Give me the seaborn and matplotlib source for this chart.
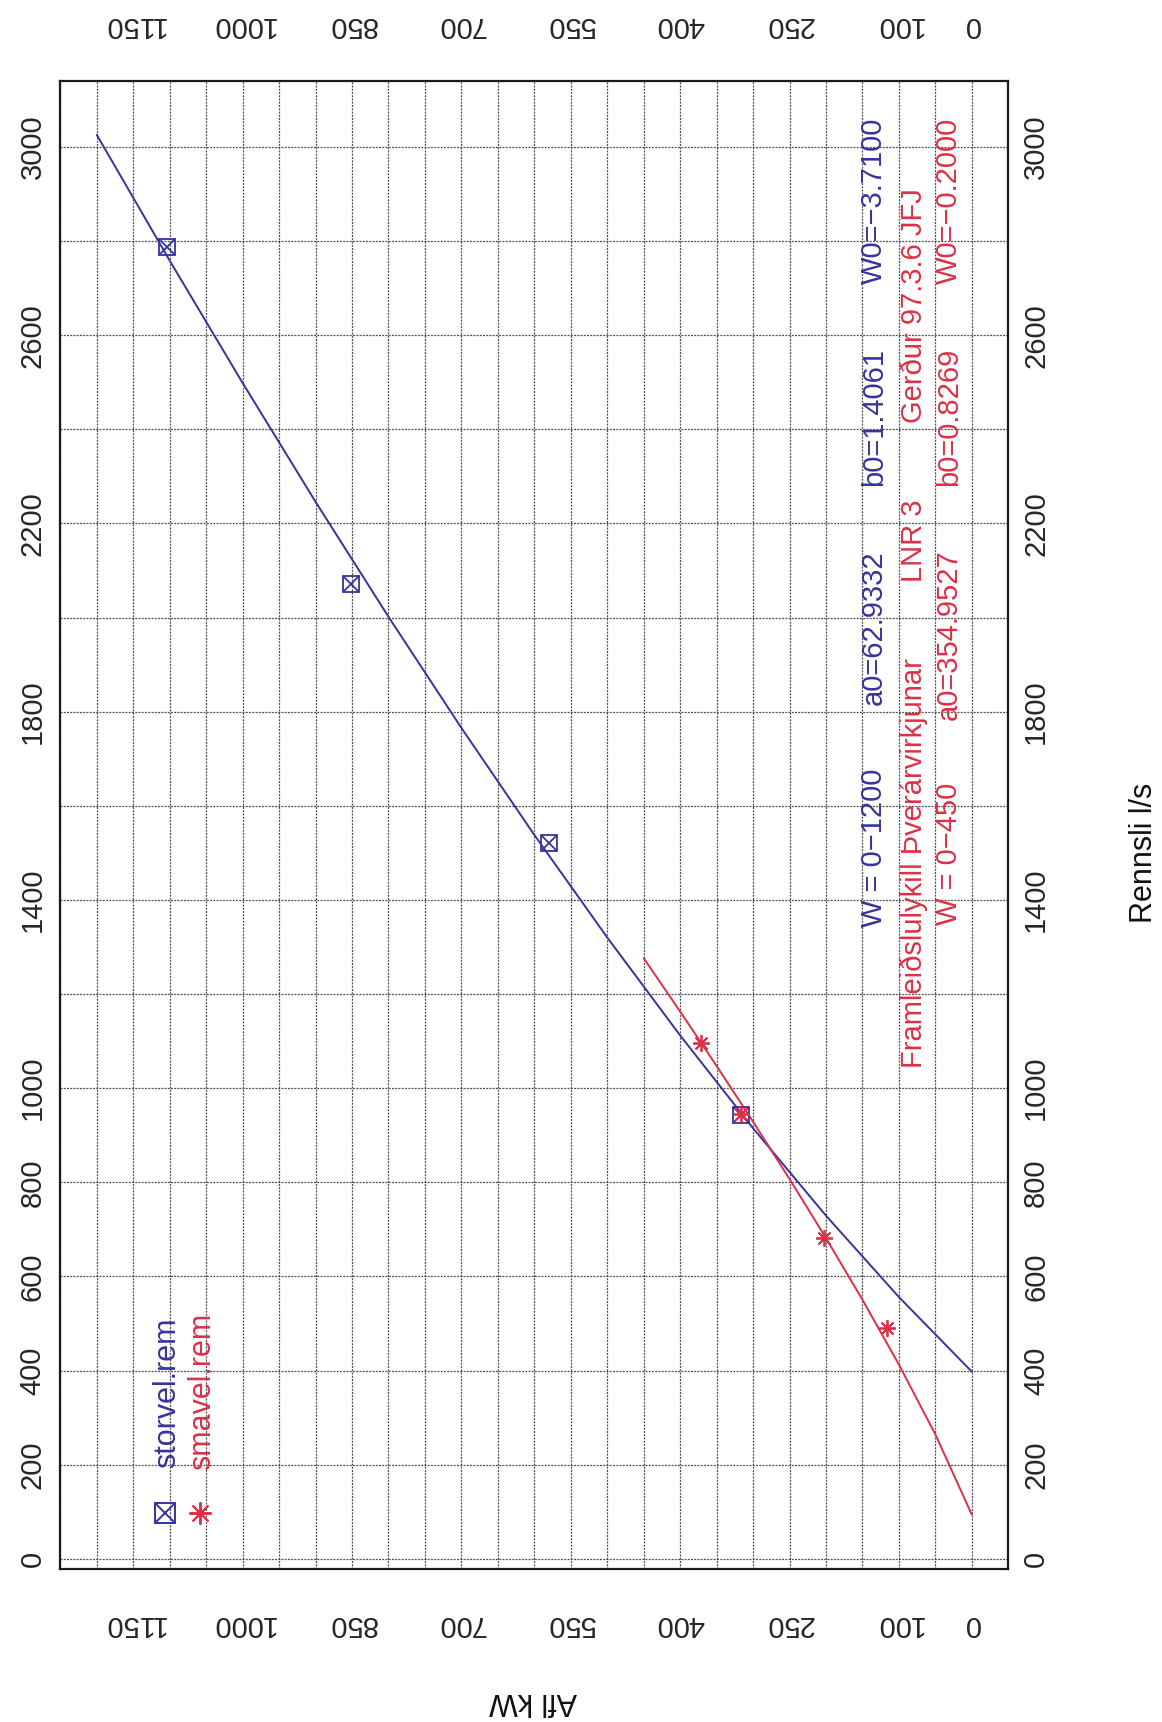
import numpy as np
import pandas as pd
import matplotlib
matplotlib.use("Agg")
import matplotlib.pyplot as plt
import seaborn as sns
from matplotlib.ticker import FixedLocator, MultipleLocator

# Measured operating points: power (kW) and discharge (l/s)
stor_power = [1103, 851, 580, 316]
stor_flow = [2787, 2071, 1520, 943]
sma_power = [371, 316, 203, 117]
sma_flow = [1095, 945, 682, 490]

# Characteristic curves of the two turbines
stor_fit_power = [0, 100, 200, 300, 400, 500, 600, 700, 800, 900, 1000, 1100, 1200]
stor_fit_flow = [397.6, 556.2, 729.1, 914.9, 1112.1, 1320.2, 1538.2, 1765.5,
                 2001.7, 2246.0, 2498.5, 2758.4, 3025.7]
sma_fit_power = [0, 50, 100, 150, 200, 250, 300, 350, 400, 450]
sma_fit_flow = [93.8, 264.3, 412.7, 550.5, 681.3, 807.0, 928.7, 1047.2, 1162.9, 1276.3]

power_ticks = [0, 100, 250, 400, 550, 700, 850, 1000, 1150]
flow_ticks = [0, 200, 400, 600, 800, 1000, 1400, 1800, 2200, 2600, 3000]

blue_note = ["W = 0\u22121200", "a0=62.9332", "b0=1.4061", "W0=\u22123.7100"]
red_title = ["Framlei\u00f0slulykill \u00dever\u00e1rvirkjunar", "LNR 3", "Ger\u00f0ur 97.3.6 JFJ"]
red_note = ["W = 0\u2212450", "a0=354.9527", "b0=0.8269", "W0=\u22120.2000"]

BLUE = "#34349c"
RED = "#dc3046"
W, H = 1162, 1722

sns.set_theme(style="white")
plt.rcParams["font.family"] = ["Liberation Sans", "DejaVu Sans"]

fig = plt.figure(figsize=(W / 100, H / 100), dpi=100)
fig.patch.set_facecolor("white")
ax = fig.add_axes([60.3 / W, 1 - 1568.7 / H, 948.0 / W, 1487.7 / H])
ax.set_facecolor("white")


def fx(px):
    return px / W


def fy(py):
    return 1 - py / H


stor_curve = pd.DataFrame({"power": stor_fit_power, "flow": stor_fit_flow})
sma_curve = pd.DataFrame({"power": sma_fit_power, "flow": sma_fit_flow})

sns.lineplot(data=stor_curve, x="power", y="flow", color=BLUE, lw=1.4, ax=ax, zorder=3)
sns.lineplot(data=sma_curve, x="power", y="flow", color=RED, lw=1.4, ax=ax, zorder=3)

# storvel.rem points: square with a cross
ax.plot(stor_power, stor_flow, ls="none", marker="s", ms=11, mfc="none", mec=BLUE, mew=1.3, zorder=4)
ax.plot(stor_power, stor_flow, ls="none", marker="x", ms=11, mec=BLUE, mew=1.3, zorder=4)
# smavel.rem points: asterisk
ax.plot(sma_power, sma_flow, ls="none", marker=(8, 2, 0), ms=12, mec=RED, mew=1.3, zorder=5)

# legend entries
ax.plot([1106], [97], ls="none", marker="s", ms=14.5, mfc="none", mec=BLUE, mew=1.4, zorder=4)
ax.plot([1106], [97], ls="none", marker="x", ms=14.5, mec=BLUE, mew=1.4, zorder=4)
ax.plot([1058], [97], ls="none", marker=(8, 2, 0), ms=16, mec=RED, mew=1.4, zorder=4)
fig.text(fx(175), fy(1468), "storvel.rem", rotation=90, rotation_mode="anchor",
         ha="left", va="baseline", color=BLUE, fontsize=22)
fig.text(fx(210), fy(1470), "smavel.rem", rotation=90, rotation_mode="anchor",
         ha="left", va="baseline", color=RED, fontsize=22)

ax.set_xlim(1250, -50)
ax.set_ylim(-21, 3140)
ax.xaxis.set_major_locator(FixedLocator(power_ticks))
ax.xaxis.set_minor_locator(MultipleLocator(50))
ax.yaxis.set_major_locator(FixedLocator(flow_ticks))
ax.yaxis.set_minor_locator(MultipleLocator(200))
ax.grid(True, which="both", color="#333333", linestyle=(0, (1.6, 1.0)), lw=0.9, alpha=0.85)
ax.set_axisbelow(True)

ax.tick_params(axis="x", which="both", length=0, top=True, bottom=True,
               labeltop=True, labelbottom=True, labelrotation=180, labelsize=21)
ax.tick_params(axis="y", which="both", length=0, left=True, right=True,
               labelleft=True, labelright=True, labelrotation=90, labelsize=21)
ax.set_xlabel("")
ax.set_ylabel("")

for t in ax.xaxis.get_major_ticks():
    t.label1.set_va("center")
    t.label2.set_va("center")
for t in ax.yaxis.get_major_ticks():
    t.label1.set_va("center")
    t.label2.set_va("center")
    t.label1.set_ha("center")
    t.label2.set_ha("center")
ax.xaxis.set_tick_params(pad=40)
ax.yaxis.set_tick_params(pad=20)

for s in ax.spines.values():
    s.set_color("#1a1a1a")
    s.set_linewidth(1.6)


def spread_line(parts, baseline_x, start_y, end_y, color, size=21):
    """Vertical run of text pieces from start_y up to end_y, equal gaps."""
    texts = [fig.text(fx(baseline_x), fy(start_y), p, rotation=90, rotation_mode="anchor",
                      ha="left", va="baseline", color=color, fontsize=size) for p in parts]
    renderer = fig.canvas.get_renderer()
    lengths = [t.get_window_extent(renderer).height for t in texts]
    gap = ((start_y - end_y) - sum(lengths)) / max(len(parts) - 1, 1)
    y = start_y
    for t, L in zip(texts, lengths):
        t.set_position((fx(baseline_x), fy(y)))
        y -= L + gap


spread_line(blue_note, 882, 927, 118, BLUE)
spread_line(red_title, 922, 1068, 188, RED)
spread_line(red_note, 957, 925, 118, RED)

# axis titles
fig.text(fx(1144), fy(853), "Rennsli l/s", rotation=90, ha="center", va="center",
         fontsize=22, color="#111111")
fig.text(fx(533), fy(1701), "Afl kW", rotation=180, ha="center", va="center",
         fontsize=22, color="#111111")

fig.savefig("out.png", dpi=100, facecolor="white")
